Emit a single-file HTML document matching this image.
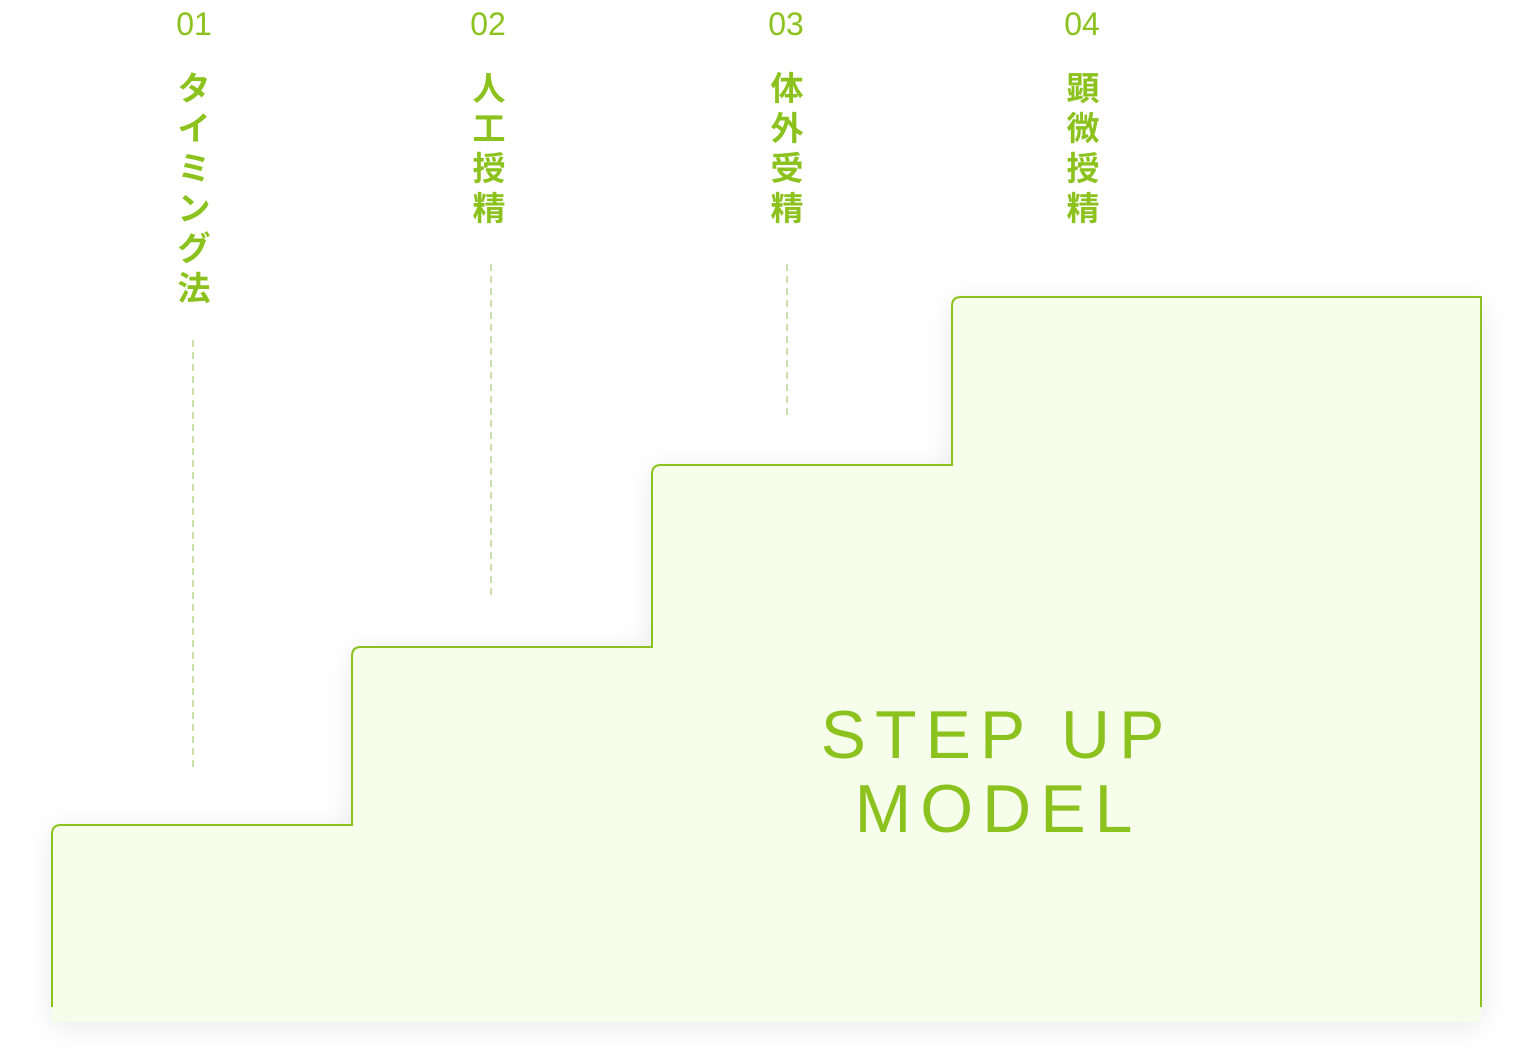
<!DOCTYPE html>
<html><head><meta charset="utf-8"><style>
html,body{margin:0;padding:0;background:#fff;width:1522px;height:1064px;overflow:hidden}
svg{display:block}
.n{font-family:"Liberation Sans",sans-serif;font-size:32px;fill:#8cc21e;text-anchor:middle}
.j{font-family:"Liberation Sans","Noto Sans CJK JP",sans-serif;font-size:33px;font-weight:bold;fill:#8cc21e;text-anchor:middle}
.t{font-family:"Liberation Sans",sans-serif;font-size:68px;fill:#8cc21e;text-anchor:middle;letter-spacing:9px;stroke:#f6fdea;stroke-width:2.2px;paint-order:stroke}
</style></head><body>
<svg width="1522" height="1064" viewBox="0 0 1522 1064">
<defs><filter id="s" x="-10%" y="-10%" width="120%" height="120%"><feGaussianBlur stdDeviation="14"/></filter></defs>
<path d="M52,1022 V834 Q52,825 61,825 H352 V656 Q352,647 361,647 H652 V474 Q652,465 661,465 H952 V306 Q952,297 961,297 H1481 V1022 Z" fill="#000" opacity="0.09" filter="url(#s)" transform="translate(0,4)"/>
<path d="M52,1022 V834 Q52,825 61,825 H352 V656 Q352,647 361,647 H652 V474 Q652,465 661,465 H952 V306 Q952,297 961,297 H1481 V1022 Z" fill="#f6fdea"/>
<path d="M52,1007 V834 Q52,825 61,825 H352 V656 Q352,647 361,647 H652 V474 Q652,465 661,465 H952 V306 Q952,297 961,297 H1481 V1007" fill="none" stroke="#8cc21e" stroke-width="2"/>
<g stroke="#b5d98a" stroke-width="1.5" stroke-dasharray="7 5">
<line x1="193" y1="340" x2="193" y2="767"/>
<line x1="491" y1="264" x2="491" y2="595"/>
<line x1="787" y1="264" x2="787" y2="415"/>
</g>
<text class="n" x="194" y="35">01</text>
<text class="n" x="488" y="35">02</text>
<text class="n" x="786" y="35">03</text>
<text class="n" x="1082" y="35">04</text>
<g class="j">
<text x="194" y="100">タ</text><text x="194" y="140">イ</text><text x="194" y="180">ミ</text><text x="194" y="220">ン</text><text x="194" y="260">グ</text><text x="194" y="300">法</text>
<text x="489" y="100">人</text><text x="489" y="140">工</text><text x="489" y="180">授</text><text x="489" y="220">精</text>
<text x="787" y="100">体</text><text x="787" y="140">外</text><text x="787" y="180">受</text><text x="787" y="220">精</text>
<text x="1083" y="100">顕</text><text x="1083" y="140">微</text><text x="1083" y="180">授</text><text x="1083" y="220">精</text>
</g>
<text class="t" x="997" y="758">STEP UP</text>
<text class="t" x="998" y="832">MODEL</text>
</svg>
</body></html>
